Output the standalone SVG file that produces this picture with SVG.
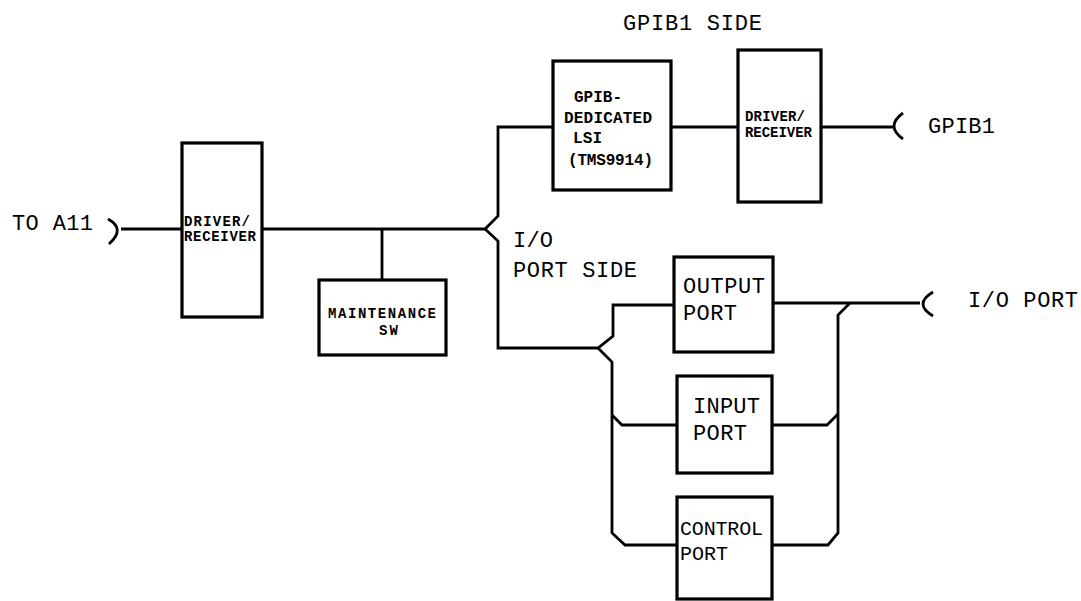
<svg xmlns="http://www.w3.org/2000/svg" width="1081" height="601" viewBox="0 0 1081 601">
<style>
.box{fill:#fff;stroke:#000;stroke-width:3.2}
.ln{fill:none;stroke:#000;stroke-width:2.8;stroke-linejoin:miter}
.big{font-family:"Liberation Mono","Courier New",monospace;font-size:22px;fill:#000}
.mid{font-family:"Liberation Mono","Courier New",monospace;font-size:16px;font-weight:bold;fill:#000}
.sm{font-family:"Liberation Mono","Courier New",monospace;font-size:14px;font-weight:bold;fill:#000}
</style>
<rect width="1081" height="601" fill="#fff"/>
<g id="connectors">
<path class="ln" d="M121,229 H182"/>
<path class="ln" d="M108,219 Q126,229 109,244"/>
<path class="ln" d="M262,229 H485 L498,216 V127 H553"/>
<path class="ln" d="M485,229 L498,241 V348 H598 L613,336 V305 H674"/>
<path class="ln" d="M598,348 L612,362 V533 L625,545 H677"/>
<path class="ln" d="M612,415 L622,425 H677"/>
<path class="ln" d="M382,229 V280"/>
<path class="ln" d="M671,127 H738"/>
<path class="ln" d="M821,127 H893"/>
<path class="ln" d="M903,113 Q885,126 903,139"/>
<path class="ln" d="M773,303 H920"/>
<path class="ln" d="M933,292 Q913,304 933,316"/>
<path class="ln" d="M850,303 L838,315 V533 L828,545 H772"/>
<path class="ln" d="M772,425 H827 L838,414"/>
</g>
<g id="labels">
<text class="big" x="12" y="230" textLength="81">TO A11</text>
<text class="big" x="623" y="30" textLength="139">GPIB1 SIDE</text>
<text class="big" x="928" y="133" textLength="67">GPIB1</text>
<text class="big" x="513" y="247" textLength="40">I/O</text>
<text class="big" x="513" y="277" textLength="124">PORT SIDE</text>
<text class="big" x="968" y="307" textLength="110">I/O PORT</text>
</g>
<g id="driver1">
<rect class="box" x="182" y="143" width="80" height="174"/>
<text class="sm" x="184" y="226" textLength="66">DRIVER/</text>
<text class="sm" x="184" y="241" textLength="72">RECEIVER</text>
</g>
<g id="maintenance">
<rect class="box" x="319" y="280" width="127" height="75"/>
<text class="sm" x="328" y="318" textLength="108">MAINTENANCE</text>
<text class="sm" x="379" y="335" textLength="19">SW</text>
</g>
<g id="gpib-lsi">
<rect class="box" x="553" y="61" width="118" height="129"/>
<text class="mid" x="574" y="102">GPIB-</text>
<text class="mid" x="564" y="123" textLength="88">DEDICATED</text>
<text class="mid" x="573" y="143" textLength="29">LSI</text>
<text class="mid" x="568" y="165" textLength="85">(TMS9914)</text>
</g>
<g id="driver2">
<rect class="box" x="738" y="50" width="83" height="152"/>
<text class="sm" x="745" y="121" textLength="60">DRIVER/</text>
<text class="sm" x="745" y="137" textLength="67">RECEIVER</text>
</g>
<g id="output-port">
<rect class="box" x="674" y="257" width="99" height="95"/>
<text class="big" x="683" y="293" textLength="82">OUTPUT</text>
<text class="big" x="683" y="320" textLength="54">PORT</text>
</g>
<g id="input-port">
<rect class="box" x="677" y="376" width="95" height="97"/>
<text class="big" x="693" y="413" textLength="67">INPUT</text>
<text class="big" x="693" y="440" textLength="54">PORT</text>
</g>
<g id="control-port">
<rect class="box" x="677" y="497" width="95" height="102"/>
<text class="big" x="680" y="535" textLength="83" style="font-size:20px">CONTROL</text>
<text class="big" x="680" y="560" textLength="48" style="font-size:20px">PORT</text>
</g>
</svg>
